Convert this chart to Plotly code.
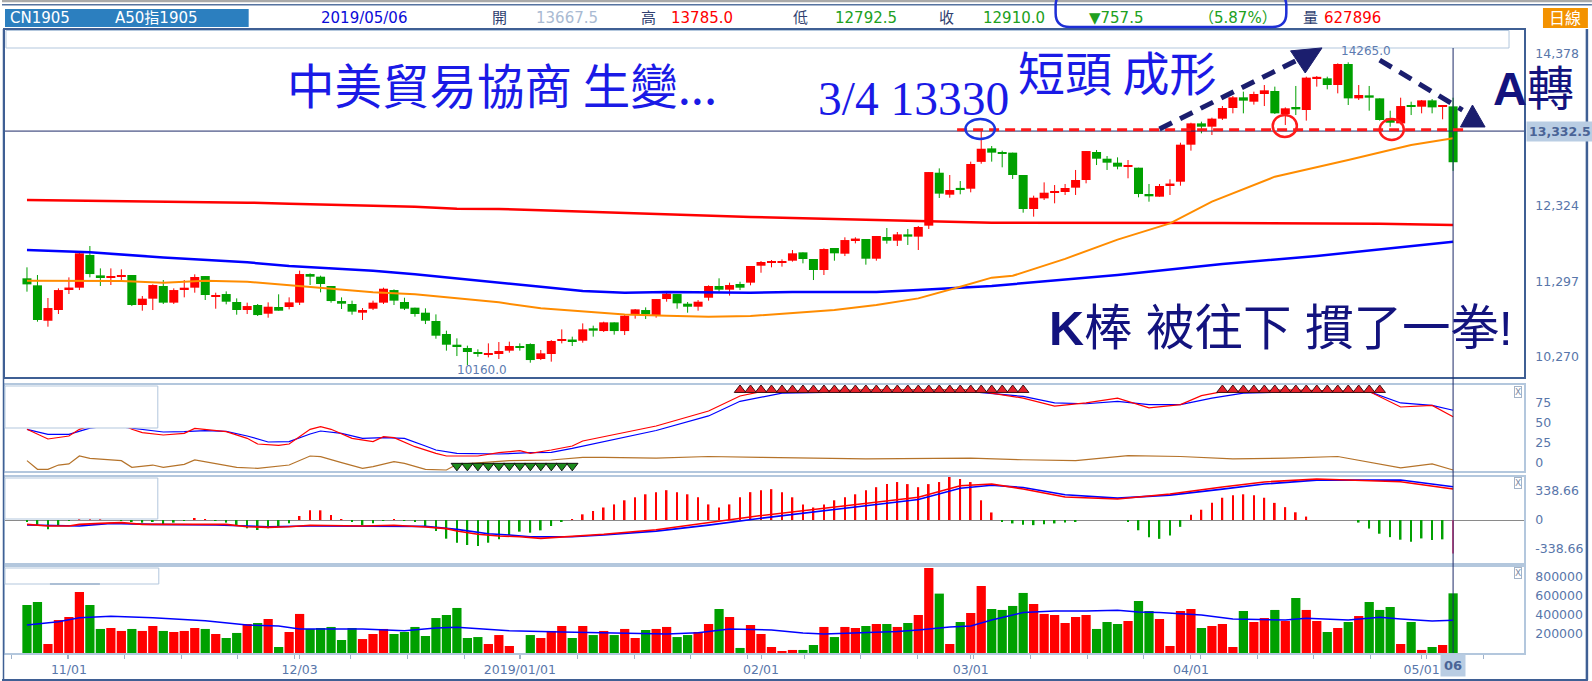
import plotly.graph_objects as go
import pandas as pd

W, H = 1592, 681
ML, MR, MT, MB = 3, 68, 30, 28
PW, PH = W - ML - MR, H - MT - MB


def px(x):
    return (x - ML) / PW


def py(y):
    return (H - MB - y) / PH


# ---------------- data ----------------
dates = pd.bdate_range("2018-10-26", "2019-05-06")

opens = [11336, 11241, 10761, 10906, 11191, 11209, 11652, 11376, 11345, 11358,
         11381, 10974, 11060, 11232, 11006, 11186, 11209, 11367, 11087, 11123,
         11015, 10906, 10974, 10856, 10947, 10947, 11006, 11394, 11358, 11232,
         11028, 10988, 10870, 10924, 11006, 11177, 11015, 10938, 10870, 10757,
         10581, 10436, 10391, 10337, 10301, 10310, 10355, 10409, 10445, 10242,
         10310, 10490, 10499, 10490, 10658, 10621, 10739, 10621, 10847, 10906,
         10838, 11055, 11123, 10992, 10951, 11073, 11232, 11182, 11259, 11277,
         11507, 11548, 11544, 11575, 11688, 11598, 11449, 11747, 11670, 11855,
         11869, 11602, 11896, 11846, 11932, 11901, 12050, 12768, 12470, 12556,
         12551, 12915, 13098, 13040, 13040, 12737, 12276, 12420, 12493, 12506,
         12565, 12669, 13049, 12958, 12904, 12850, 12836, 12479, 12443, 12601,
         12646, 13148, 13437, 13392, 13501, 13645, 13790, 13731, 13835, 13876,
         13564, 13659, 13618, 14048, 14048, 13957, 14242, 13776, 13817, 13776,
         13505, 13437, 13677, 13663, 13749, 13659, 13667.5]
highs = [11485, 11381, 11069, 11200, 11349, 11697, 11774, 11471, 11471, 11458,
         11381, 11096, 11254, 11313, 11200, 11313, 11390, 11367, 11141, 11159,
         11064, 11006, 10988, 11010, 11119, 11078, 11440, 11403, 11372, 11232,
         11078, 11033, 10933, 11033, 11209, 11186, 11073, 10938, 10929, 10847,
         10626, 10522, 10423, 10373, 10454, 10472, 10477, 10454, 10454, 10364,
         10499, 10644, 10545, 10725, 10694, 10748, 10739, 10838, 10920, 10942,
         11055, 11141, 11123, 11015, 11042, 11241, 11336, 11277, 11290, 11503,
         11571, 11584, 11593, 11720, 11688, 11598, 11742, 11747, 11892, 11892,
         11869, 11910, 12018, 11964, 12005, 12045, 12777, 12827, 12737, 12655,
         12918, 13330, 13130, 13067, 13040, 12737, 12457, 12637, 12601, 12615,
         12805, 13062, 13076, 12994, 12976, 12940, 12836, 12615, 12615, 12678,
         13175, 13446, 13460, 13514, 13672, 13808, 13867, 13867, 13957, 13935,
         13654, 13944, 14070, 14079, 14070, 14251, 14265, 13957, 13944, 13776,
         13609, 13785, 13731, 13754, 13767, 13686, 13785]
lows = [11155, 10748, 10680, 10852, 11123, 11177, 11349, 11232, 11245, 11313,
        10960, 10897, 10906, 10988, 10988, 11078, 11141, 11042, 10924, 10983,
        10843, 10852, 10825, 10802, 10897, 10915, 10974, 11245, 11146, 11006,
        10920, 10843, 10771, 10906, 10988, 10974, 10906, 10816, 10716, 10517,
        10355, 10282, 10160, 10273, 10264, 10242, 10328, 10355, 10192, 10228,
        10206, 10454, 10418, 10463, 10545, 10608, 10572, 10567, 10789, 10784,
        10802, 11019, 10924, 10870, 10897, 11033, 11155, 11101, 11177, 11241,
        11412, 11485, 11494, 11562, 11539, 11313, 11381, 11575, 11638, 11810,
        11521, 11575, 11806, 11774, 11788, 11720, 12005, 12425, 12429, 12475,
        12502, 12890, 12918, 12841, 12683, 12226, 12172, 12398, 12353, 12466,
        12466, 12624, 12872, 12805, 12814, 12692, 12434, 12375, 12443, 12466,
        12592, 13067, 13302, 13279, 13483, 13573, 13573, 13691, 13672, 13564,
        13415, 13550, 13474, 13935, 13898, 13844, 13686, 13754, 13609, 13474,
        13392, 13424, 13550, 13573, 13573, 13492, 12792.5]
closes = [11254, 10771, 10933, 11177, 11209, 11675, 11394, 11349, 11358, 11381,
          10974, 11060, 11245, 11006, 11177, 11209, 11354, 11110, 11110, 11019,
          10906, 10960, 10838, 10951, 10897, 11010, 11394, 11358, 11259, 11028,
          10992, 10884, 10906, 11006, 11195, 11033, 10924, 10852, 10761, 10558,
          10436, 10409, 10337, 10314, 10314, 10350, 10418, 10395, 10228, 10319,
          10486, 10508, 10486, 10644, 10626, 10739, 10621, 10829, 10915, 10847,
          11055, 11128, 10997, 10951, 11019, 11232, 11182, 11245, 11209, 11503,
          11557, 11557, 11557, 11675, 11598, 11449, 11733, 11675, 11855, 11873,
          11602, 11910, 11846, 11932, 11901, 12032, 12777, 12484, 12533, 12542,
          12886, 13093, 13040, 13026, 12737, 12276, 12429, 12497, 12511, 12561,
          12669, 13062, 12958, 12904, 12850, 12859, 12479, 12448, 12588, 12615,
          13148, 13437, 13392, 13501, 13645, 13790, 13745, 13835, 13885, 13573,
          13641, 13627, 14057, 14057, 13957, 14242, 13776, 13822, 13785, 13483,
          13446, 13672, 13663, 13749, 13654, 13667.5, 12910]
volumes = [505000, 537000, 95000, 347000, 379000, 642000, 505000, 253000, 263000, 232000,
           253000, 232000, 284000, 232000, 221000, 232000, 263000, 253000, 200000, 158000,
           211000, 305000, 316000, 358000, 63000, 221000, 411000, 253000, 263000, 274000,
           137000, 263000, 147000, 200000, 253000, 200000, 221000, 274000, 179000, 368000,
           400000, 474000, 158000, 168000, 95000, 189000, 74000, 0, 189000, 158000,
           232000, 284000, 158000, 284000, 189000, 232000, 189000, 253000, 158000, 242000,
           253000, 274000, 168000, 189000, 221000, 305000, 463000, 379000, 53000, 295000,
           200000, 63000, 21000, 32000, 32000, 84000, 274000, 168000, 274000, 263000,
           284000, 305000, 305000, 274000, 316000, 400000, 895000, 625000, 95000, 326000,
           421000, 705000, 463000, 453000, 495000, 632000, 516000, 411000, 400000, 316000,
           379000, 400000, 253000, 326000, 305000, 337000, 547000, 442000, 358000, 74000,
           442000, 463000, 263000, 284000, 305000, 63000, 442000, 326000, 368000, 453000,
           337000, 579000, 453000, 337000, 221000, 263000, 326000, 389000, 537000, 453000,
           484000, 95000, 326000, 32000, 63000, 84000, 627896]
macd_hist = [-20, -58, -109, -70, -10, 5, 10, 5, 0, -10,
             -20, -31, -23, -51, -31, -5, 23, 5, -10, -31,
             -70, -97, -117, -97, -78, -39, 47, 113, 113, 58,
             5, -19, -58, -39, -10, 5, -5, -16, -70, -128,
             -218, -265, -292, -304, -265, -226, -175, -136, -148, -121,
             -70, -20, 10, 66, 105, 146, 182, 230, 265, 300,
             325, 348, 325, 300, 265, 182, 146, 182, 265, 325,
             348, 360, 325, 265, 182, 146, 182, 230, 265, 300,
             348, 383, 419, 443, 419, 383, 419, 443, 502, 479,
             443, 230, 88, -20, -40, -55, -60, -50, -40, -30,
             -20, 0, 0, 0, 0, -20, -120, -200, -220, -180,
             -80, 60, 120, 200, 260, 290, 300, 290, 260, 200,
             150, 90, 40, 0, 0, 0, 0, -30, -100, -160,
             -200, -230, -253, -215, -233, -226, -390]

# moving averages (bar index, value)
ma_orange_x = [0, 9, 13, 17, 21, 25, 29, 33, 37, 41, 45, 49, 53, 57, 61, 65, 69, 73, 77, 81,
               85, 89, 92, 94, 99, 104, 107, 109, 113, 119, 126, 132, 136]
ma_orange_y = [11304, 11299, 11277, 11304, 11290, 11245, 11200, 11146, 11119, 11064, 11010,
               10929, 10893, 10847, 10829, 10816, 10825, 10870, 10906, 10974, 11064, 11222,
               11345, 11370, 11600, 11861, 11991, 12081, 12375, 12714, 12940, 13144, 13234]
ma_blue_x = [0, 6, 13, 17, 21, 25, 29, 33, 37, 41, 45, 49, 53, 57, 61, 65, 69, 73, 77, 81,
             85, 89, 92, 104, 114, 123, 131, 136]
ma_blue_y = [11720, 11688, 11620, 11584, 11553, 11503, 11471, 11440, 11390, 11336, 11285,
             11223, 11164, 11141, 11150, 11141, 11141, 11150, 11150, 11150, 11177, 11209,
             11232, 11381, 11530, 11639, 11757, 11833]
ma_red_x = [0, 6, 13, 21, 25, 29, 33, 37, 41, 45, 49, 53, 57, 61, 65, 69, 73, 77, 81, 85,
            89, 92, 114, 129, 136]
ma_red_y = [12398, 12389, 12375, 12362, 12348, 12334, 12321, 12307, 12280, 12276, 12258,
            12240, 12212, 12199, 12181, 12167, 12154, 12140, 12127, 12118, 12095, 12090,
            12085, 12075, 12059]

# KD panel
k_x = [0, 2, 4, 5, 7, 9, 10, 11, 13, 15, 16, 18, 19, 21, 22, 24, 25, 27, 28, 29, 31, 33,
       34, 35, 37, 39, 40, 43, 45, 47, 48, 50, 52, 53, 55, 60, 65, 68, 70, 80, 90, 95, 98,
       101, 104, 107, 110, 112, 114, 120, 128, 131, 134, 136]
k_y = [41.5, 29.6, 33.3, 41.5, 50, 48, 41.5, 37.4, 34.5, 36.5, 42.7, 39.8, 38.6, 30.4, 23.4,
       21.8, 23.4, 41.5, 44.7, 41.5, 30.4, 26.3, 32.4, 31.2, 20.1, 11.9, 8.6, 8.6, 12.7, 15.2,
       11.9, 16, 20.9, 27.1, 32.4, 45.6, 64, 82.6, 88, 90, 90, 80, 70, 74, 80, 68, 72, 83,
       88, 90, 88, 69, 71, 57]
d_x = [0, 2, 4, 6, 8, 11, 13, 15, 17, 19, 21, 23, 25, 27, 28, 30, 32, 34, 36, 38, 39, 41,
       45, 48, 50, 52, 55, 60, 65, 68, 72, 80, 90, 95, 98, 101, 104, 107, 110, 113, 116,
       122, 128, 131, 134, 136]
d_y = [41.5, 35.3, 35.3, 43, 46, 41.5, 38.2, 38.6, 39.8, 39, 33.3, 25.9, 26.3, 35.7, 39.4,
       36.5, 30.4, 31.2, 30.4, 20.9, 16, 11.9, 11.1, 12.7, 13.1, 18, 26.3, 40, 58, 76, 86,
       88, 88, 82, 74, 73, 76, 72, 72, 80, 86, 88, 88, 74, 71, 65]
j_x = [0, 1, 2, 3, 4, 5, 6, 9, 10, 12, 13, 15, 16, 18, 20, 22, 25, 27, 28, 30, 32, 33, 35,
       36, 38, 40, 41, 46, 50, 53, 55, 60, 65, 70, 80, 90, 95, 100, 105, 110, 115, 120,
       125, 131, 134, 136]
j_y = [2.9, -7.8, -7.8, -2.5, -1.2, 8.6, 5.7, 2.9, -5.3, -2.5, -5.3, -1.6, 3.7, -0.4, -5.3,
       -6.6, -2.5, 8.6, 7.8, 0.4, -6.6, -4.5, 1.6, -0.4, -7.8, -8.6, -1.6, 2.9, 3.7, 7, 7,
       6, 8, 7, 5, 6, 4, 3, 9, 8, 5, 6, 8, -6, -1, -8.6]
kd_high_signal = [68, 69, 70, 71, 72, 73, 74, 75, 76, 77, 78, 79, 80, 81, 82, 83, 84, 85,
                  86, 87, 88, 89, 90, 91, 92, 93, 94, 95,
                  114, 115, 116, 117, 118, 119, 120, 121, 122, 123, 124, 125, 126, 127, 128, 129]
kd_low_signal = [41, 42, 43, 44, 45, 46, 47, 48, 49, 50, 51, 52]

# MACD lines
dif_x = [0, 2, 4, 5, 7, 9, 11, 13, 19, 21, 23, 25, 27, 32, 35, 38, 40, 41, 43, 45, 47, 49,
         50, 53, 55, 60, 65, 70, 75, 80, 85, 89, 92, 95, 99, 104, 109, 114, 118, 123, 128,
         131, 136]
dif_y = [-51, -70, -70, -51, -39, -31, -51, -51, -51, -78, -86, -78, -62, -70, -62, -82,
         -101, -128, -167, -187, -195, -214, -206, -187, -167, -114, -31, 52, 123, 194, 265,
         400, 420, 362, 269, 245, 304, 385, 444, 479, 455, 447, 362]
dea_x = [0, 5, 8, 12, 18, 23, 27, 34, 38, 41, 44, 46, 48, 52, 55, 60, 65, 70, 75, 80, 85,
         89, 92, 95, 99, 104, 109, 114, 118, 123, 128, 131, 136]
dea_y = [-58, -70, -39, -51, -58, -78, -70, -70, -74, -109, -160, -175, -195, -195, -175,
         -130, -60, 20, 95, 165, 240, 370, 405, 380, 295, 255, 290, 360, 420, 465, 468, 467,
         389]

vol_ma_x = [0, 3, 5, 8, 12, 17, 21, 24, 26, 32, 36, 39, 41, 46, 51, 61, 64, 67, 71, 74, 76,
            80, 83, 85, 88, 90, 92, 95, 98, 101, 104, 106, 108, 112, 115, 120, 122, 126,
            129, 131, 134, 136]
vol_ma_y = [295000, 330000, 372000, 386000, 372000, 340000, 295000, 284000, 253000, 253000,
            235000, 263000, 270000, 235000, 221000, 200000, 214000, 253000, 242000, 211000,
            200000, 211000, 225000, 242000, 274000, 284000, 347000, 425000, 442000, 442000,
            449000, 432000, 425000, 400000, 358000, 347000, 365000, 347000, 375000, 358000,
            337000, 344000]

# ---------------- styling constants ----------------
UP, DN = "#ff0000", "#00a000"
AXC = "#5876aa"
TICKF = dict(family="DejaVu Sans", size=12.5, color=AXC)
CJK = "Noto Sans CJK TC"

idx = list(range(len(dates)))
up = [i for i in idx if closes[i] >= opens[i]]
dn = [i for i in idx if closes[i] < opens[i]]

fig = go.Figure()


def wick_xy(ids):
    xs, ys = [], []
    for i in ids:
        xs += [i, i, None]
        ys += [lows[i], highs[i], None]
    return xs, ys


for ids, col in ((up, UP), (dn, DN)):
    wx, wy = wick_xy(ids)
    fig.add_trace(go.Scatter(x=wx, y=wy, mode="lines", line=dict(color=col, width=1),
                             hoverinfo="skip", xaxis="x", yaxis="y"))
for ids, col in ((up, UP), (dn, DN)):
    fig.add_trace(go.Bar(x=ids, y=[max(abs(closes[i] - opens[i]), 20) for i in ids],
                         base=[min(opens[i], closes[i]) for i in ids],
                         width=0.86, marker=dict(color=col, line=dict(width=0)),
                         xaxis="x", yaxis="y"))

for mx, my, col, w in ((ma_red_x, ma_red_y, "#ff0000", 2.5),
                       (ma_blue_x, ma_blue_y, "#0000ff", 2.5),
                       (ma_orange_x, ma_orange_y, "#ff8c00", 2)):
    fig.add_trace(go.Scatter(x=mx, y=my, mode="lines", line=dict(color=col, width=w),
                             xaxis="x", yaxis="y"))

# KD
fig.add_trace(go.Scatter(x=j_x, y=j_y, mode="lines", line=dict(color="#b5732a", width=1.2),
                         xaxis="x2", yaxis="y2"))
fig.add_trace(go.Scatter(x=d_x, y=d_y, mode="lines", line=dict(color="#0000ff", width=1.2),
                         xaxis="x2", yaxis="y2"))
fig.add_trace(go.Scatter(x=k_x, y=k_y, mode="lines", line=dict(color="#ff0000", width=1.2),
                         xaxis="x2", yaxis="y2"))
fig.add_trace(go.Scatter(x=kd_high_signal, y=[90] * len(kd_high_signal), mode="markers",
                         marker=dict(symbol="triangle-up", size=10, color="#e8202a",
                                     line=dict(color="#3a1010", width=1)),
                         cliponaxis=False, xaxis="x2", yaxis="y2"))
fig.add_trace(go.Scatter(x=kd_low_signal, y=[-3.5] * len(kd_low_signal), mode="markers",
                         marker=dict(symbol="triangle-down", size=10, color="#1c8c1c",
                                     line=dict(color="#111111", width=1)),
                         cliponaxis=False, xaxis="x2", yaxis="y2"))

# MACD
hist_col = [("#ff5a8c" if i == idx[-1] else (UP if macd_hist[i] >= 0 else DN)) for i in idx]
fig.add_trace(go.Bar(x=idx, y=macd_hist, width=0.16, marker=dict(color=hist_col, line=dict(width=0)),
                     xaxis="x3", yaxis="y3"))
fig.add_trace(go.Scatter(x=dea_x, y=dea_y, mode="lines", line=dict(color="#0000ff", width=1.6),
                         xaxis="x3", yaxis="y3"))
fig.add_trace(go.Scatter(x=dif_x, y=dif_y, mode="lines", line=dict(color="#ff0000", width=1.6),
                         xaxis="x3", yaxis="y3"))

# Volume
fig.add_trace(go.Bar(x=idx, y=volumes, width=0.88,
                     marker=dict(color=[UP if closes[i] >= opens[i] else DN for i in idx],
                                 line=dict(width=0)),
                     xaxis="x4", yaxis="y4"))
fig.add_trace(go.Scatter(x=vol_ma_x, y=vol_ma_y, mode="lines", line=dict(color="#0000ff", width=1.5),
                         xaxis="x4", yaxis="y4"))

# month tick labels
month_ticks, month_text = [], []
for i in idx[1:]:
    if dates[i].month != dates[i - 1].month:
        month_ticks.append(i)
        month_text.append(dates[i].strftime("%Y/%m/%d") if dates[i].month == 1
                          else dates[i].strftime("%m/%d"))

XR = [(ML - 25) / 10.5, (W - MR - 25) / 10.5]
dark_line = "#3f5f94"
light_line = "#b3c7dd"

base_x = dict(range=XR, showgrid=False, zeroline=False, showticklabels=False,
              showline=True, mirror=True, fixedrange=True)
base_y = dict(side="right", showgrid=False, zeroline=False, showline=True, mirror=True,
              tickfont=TICKF, ticks="", ticklabelstandoff=7, fixedrange=True)

layout = dict(
    width=W, height=H, margin=dict(l=ML, r=MR, t=MT, b=MB),
    paper_bgcolor="white", plot_bgcolor="white", showlegend=False,
    barmode="overlay", hovermode=False,
    xaxis=dict(base_x, anchor="y", linecolor=dark_line, linewidth=1.5),
    yaxis=dict(base_y, domain=[py(377), 1], range=[9998, 14703], linecolor=dark_line,
               linewidth=1.5, tickvals=[10270, 11297, 12324, 14378],
               ticktext=["10,270", "11,297", "12,324", "14,378"]),
    xaxis2=dict(base_x, anchor="y2", matches="x", linecolor=light_line, linewidth=1.5),
    yaxis2=dict(base_y, domain=[py(471), py(385)], range=[-9.86, 96.1],
                linecolor=light_line, linewidth=1.5, tickvals=[0, 25, 50, 75]),
    xaxis3=dict(base_x, anchor="y3", matches="x", linecolor=light_line, linewidth=1.5),
    yaxis3=dict(base_y, domain=[py(563), py(477)], range=[-502, 502],
                linecolor=light_line, linewidth=1.5, zeroline=True, zerolinecolor="#8a8a8a",
                zerolinewidth=1.2, tickvals=[-338.66, 0, 338.66],
                ticktext=["-338.66", "0", "338.66"]),
    xaxis4=dict(base_x, anchor="y4", matches="x", linecolor=light_line, linewidth=1.5,
                showticklabels=True, tickvals=month_ticks, ticktext=month_text,
                tickfont=TICKF, ticks="outside", ticklen=4, tickcolor="#9fb2ca",
                minor=dict(tickmode="linear", tick0=-1.5, dtick=5.4, ticks="outside",
                           ticklen=4, tickcolor="#9fb2ca")),
    yaxis4=dict(base_y, domain=[0, py(567)], range=[0, 905000], linecolor=light_line,
                linewidth=1.5, tickvals=[200000, 400000, 600000, 800000],
                ticktext=["200000", "400000", "600000", "800000"]),
)
fig.update_layout(**layout)

shapes = []


def prect(x0, y0, x1, y1, line="#b3c7dd", fill="white", w=1, layer="above"):
    shapes.append(dict(type="rect", xref="paper", yref="paper", x0=px(x0), x1=px(x1),
                       y0=py(y1), y1=py(y0), line=dict(color=line, width=w),
                       fillcolor=fill, layer=layer))


def pline(x0, y0, x1, y1, col, w):
    shapes.append(dict(type="line", xref="paper", yref="paper", x0=px(x0), x1=px(x1),
                       y0=py(y0), y1=py(y1), line=dict(color=col, width=w)))


# frame / header decorations
pline(0, 1, W, 1, "#a9a9a9", 2.5)
pline(0, 4.8, W, 4.8, "#55729f", 1.5)
prect(3, 9, 247, 27, line="#2c7fbf", fill="#2c7fbf", w=0)
prect(1543, 8, 1588, 28, line="#f39200", fill="#f39200", w=0)
pline(1587, 29, 1587, 680, "#3f5f94", 2.5)
pline(0, 680, 1588, 680, "#3f5f94", 2)
pline(1.5, 29, 1.5, 680, "#3f5f94", 1.5)
# legend boxes inside panels
prect(4, 30.5, 1509, 48)
prect(3, 386, 156, 428)
prect(3, 478, 156, 519)
prect(3, 568, 157, 584)
pline(48, 584, 98, 584, "#9cb3cc", 1.5)
# blue rounded box in header
r = 14
x0b, x1b, y0b, y1b = 1055, 1286, -8, 27
path = (f"M {px(x0b + r)},{py(y0b)} L {px(x1b - r)},{py(y0b)} "
        f"Q {px(x1b)},{py(y0b)} {px(x1b)},{py(y0b + r)} L {px(x1b)},{py(y1b - r)} "
        f"Q {px(x1b)},{py(y1b)} {px(x1b - r)},{py(y1b)} L {px(x0b + r)},{py(y1b)} "
        f"Q {px(x0b)},{py(y1b)} {px(x0b)},{py(y1b - r)} L {px(x0b)},{py(y0b + r)} "
        f"Q {px(x0b)},{py(y0b)} {px(x0b + r)},{py(y0b)} Z")
shapes.append(dict(type="path", xref="paper", yref="paper", path=path,
                   line=dict(color="#1e2fd6", width=2.5)))

# cross-hair
shapes.append(dict(type="line", xref="x", yref="paper", x0=idx[-1], x1=idx[-1], y0=0,
                   y1=py(48), line=dict(color="#1d2a68", width=1)))
shapes.append(dict(type="line", xref="paper", yref="y", x0=0, x1=1, y0=13332.5, y1=13332.5,
                   line=dict(color="#1d2a68", width=1)))

# drawings on price panel
shapes.append(dict(type="line", xref="x", yref="y", x0=88.7, x1=137, y0=13350, y1=13350,
                   line=dict(color="#ff1a1a", width=3, dash="10px,6px")))
shapes.append(dict(type="circle", xref="x", yref="y", x0=89.5, x1=92.3, y0=13225, y1=13496,
                   line=dict(color="#1a35e0", width=2.5)))
shapes.append(dict(type="circle", xref="x", yref="y", x0=118.8, x1=121.1, y0=13252, y1=13551,
                   line=dict(color="#ff1a1a", width=2.5)))
shapes.append(dict(type="circle", xref="x", yref="y", x0=129.0, x1=131.3, y0=13212, y1=13496,
                   line=dict(color="#ff1a1a", width=2.5)))
NAVY = "#1b1e6e"
shapes.append(dict(type="line", xref="x", yref="y", x0=108, y0=13361, x1=121.2, y1=14300,
                   line=dict(color=NAVY, width=5, dash="14px,9px")))
shapes.append(dict(type="path", xref="x", yref="y",
                   path="M 120.5,14420 L 123.5,14460 L 121.9,14120 Z",
                   fillcolor=NAVY, line=dict(color=NAVY, width=1)))
shapes.append(dict(type="line", xref="x", yref="y", x0=129.0, y0=14296, x1=136.9, y1=13618,
                   line=dict(color=NAVY, width=5, dash="14px,9px")))
shapes.append(dict(type="path", xref="x", yref="y",
                   path="M 136.7,13388 L 139.05,13388 L 137.85,13686 Z",
                   fillcolor=NAVY, line=dict(color=NAVY, width=1)))
fig.update_layout(shapes=shapes)

ann = []


def htext(x, text, color, size=15, family="DejaVu Sans, " + CJK, y=18.5, anchor="left", **kw):
    ann.append(dict(xref="paper", yref="paper", x=px(x), y=py(y), text=text, showarrow=False,
                    xanchor=anchor, yanchor="middle",
                    font=dict(family=family, size=size, color=color), **kw))


LBL = "#2f3f70"
htext(6, "CN1905", "white")
htext(111, "A50指1905", "white")
htext(317, "2019/05/06", "#0a0ad8")
htext(489, "開", LBL)
htext(533, "13667.5", "#a9bad2")
htext(638, "高", LBL)
htext(668, "13785.0", "#ff0000")
htext(790, "低", LBL)
htext(832, "12792.5", "#20a020")
htext(936, "收", LBL)
htext(980, "12910.0", "#20a020")
htext(1086, "▼757.5", "#20a020")
htext(1197, "（5.87%）", "#20a020")
htext(1301, "量", LBL)
htext(1322, "627896", "#ff0000")
htext(1565.5, "日線", "white", anchor="center", size=16)

# cursor value / date highlights
ann.append(dict(xref="paper", yref="y", x=px(1526), y=13332.5, text="<b>13,332.5</b>",
                showarrow=False, xanchor="left", yanchor="middle", bgcolor="#b9cde3",
                font=dict(family="DejaVu Sans", size=12.5, color="#4a6496"), borderpad=2))
ann.append(dict(xref="x", yref="paper", x=idx[-1], y=py(665), text="<b>06</b>",
                showarrow=False, xanchor="center", yanchor="middle", bgcolor="#b9cde3",
                font=dict(family="DejaVu Sans", size=13, color="#4a6496"), borderpad=3))
# X boxes
for yy in (392.5, 483, 573):
    ann.append(dict(xref="paper", yref="paper", x=px(1518), y=py(yy), text="X",
                    showarrow=False, xanchor="center", yanchor="middle",
                    font=dict(family="DejaVu Sans", size=9, color="#7d8ca6"),
                    bordercolor="#a3b3c8", borderwidth=1, borderpad=0, bgcolor="white"))

# high / low labels
hi_i = highs.index(max(highs))
lo_i = lows.index(min(lows))
ann.append(dict(xref="x", yref="y", x=hi_i, y=highs[hi_i], text=f"{highs[hi_i]:.1f}",
                showarrow=False, xanchor="left", yanchor="bottom", xshift=-9, yshift=2,
                font=dict(family="DejaVu Sans", size=12, color="#5d7bb0")))
ann.append(dict(xref="x", yref="y", x=lo_i, y=lows[lo_i], text=f"{lows[lo_i]:.1f}",
                showarrow=False, xanchor="left", yanchor="middle", xshift=-12, yshift=-5,
                font=dict(family="DejaVu Sans", size=12, color="#5d7bb0")))

BLUE = "#1a1ae6"
ann.append(dict(xref="x", yref="y", x=24.6, y=13975, text="中美貿易協商 生變...",
                showarrow=False, xanchor="left", yanchor="middle",
                font=dict(family=CJK, size=47.5, color=BLUE)))
ann.append(dict(xref="x", yref="y", x=75.2, y=13765, text="3/4 13330",
                showarrow=False, xanchor="left", yanchor="middle",
                font=dict(family="Liberation Serif", size=47.5, color=BLUE)))
ann.append(dict(xref="x", yref="y", x=94.3, y=14160, text="短頭 成形",
                showarrow=False, xanchor="left", yanchor="middle",
                font=dict(family=CJK, size=47, color=BLUE)))
ann.append(dict(xref="x", yref="y", x=139.6, y=13905, text="<b>A</b>轉",
                showarrow=False, xanchor="left", yanchor="middle",
                font=dict(family="Liberation Sans, " + CJK, size=47, color="#13137e")))
ann.append(dict(xref="x", yref="y", x=97.3, y=10660, text="<b>K</b>棒 被往下 摜了一拳!",
                showarrow=False, xanchor="left", yanchor="middle",
                font=dict(family="Liberation Sans, " + CJK, size=48.5, color="#13137e")))
fig.update_layout(annotations=ann)

fig.write_html("out.html", config={"displayModeBar": False},
               post_script="document.body.style.margin='0';document.body.style.overflow='hidden';")
